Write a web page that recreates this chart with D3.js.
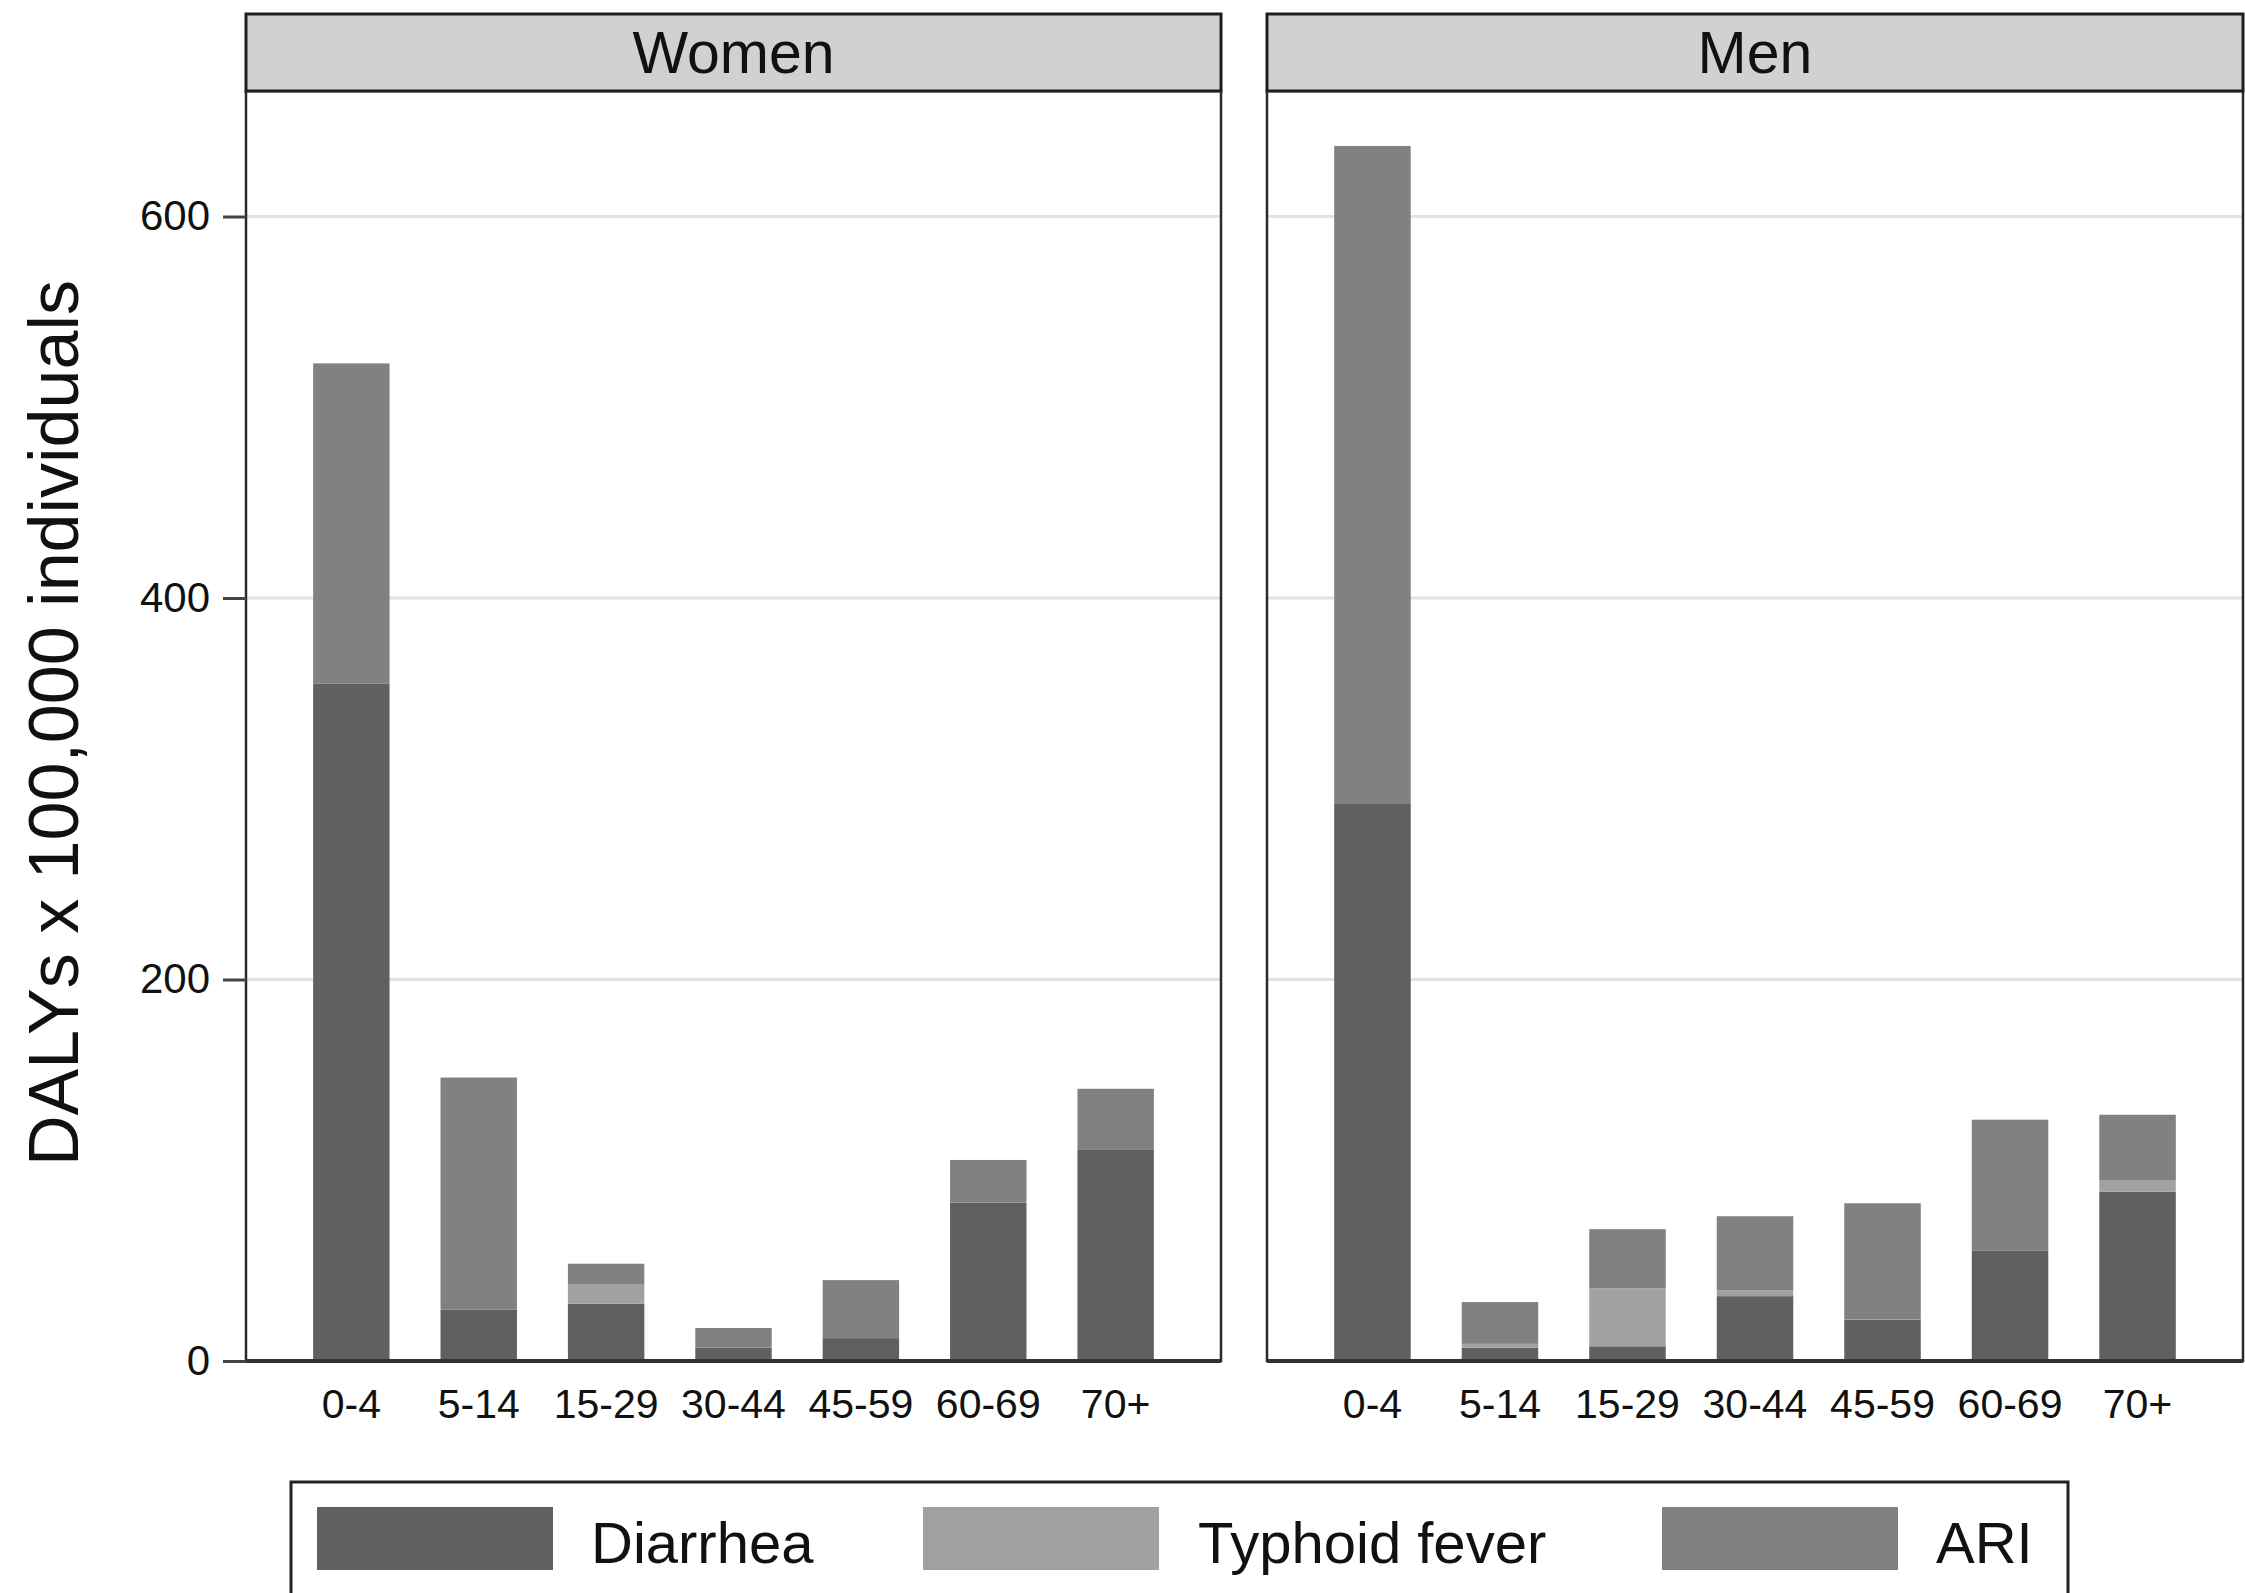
<!DOCTYPE html>
<html>
<head>
<meta charset="utf-8">
<script src="https://cdn.jsdelivr.net/npm/d3@7"></script>
<style>
  body { margin: 0; background: #fff; }
  svg { display: block; font-family: "Liberation Sans", Arial, Helvetica, sans-serif; }
</style>
</head>
<body>
<div id="chart"></div>
<script>
"use strict";

// Age groups and the three causes
const ages = ["0-4", "5-14", "15-29", "30-44", "45-59", "60-69", "70+"];
const causes = ["Diarrhea", "Typhoid fever", "ARI"];
const panels = ["Women", "Men"];

const women_diarrhea = [355, 27, 30, 7, 12, 83, 111];
const women_typhoid  = [0, 0, 10, 0, 0, 0, 0];
const women_ari      = [168, 121.6, 11, 10.3, 30.4, 22.4, 31.7];

const men_diarrhea = [292, 7, 7.7, 34, 21.5, 58, 88.8];
const men_typhoid  = [0, 2, 30.3, 3, 0.5, 0, 5.8];
const men_ari      = [345, 21.9, 31.1, 38.9, 60.7, 68.5, 34.5];

const y_ticks = [0, 200, 400, 600];
const y_title = "DALYs x 100,000 individuals";

const colors = {"Diarrhea": "#606060", "Typhoid fever": "#a1a1a1", "ARI": "#818181"};

const width = 2245, height = 1593;

// panel geometry
const panel_x = [[246, 1221], [1267, 2243]];
const strip_top = 14, plot_top = 91, plot_bottom = 1361;

function make_rows(diarrhea, typhoid, ari) {
    return ages.map(function (age, i) {
        return {"age": age, "Diarrhea": diarrhea[i], "Typhoid fever": typhoid[i], "ARI": ari[i]};
    });
}

const panel_data = {
    "Women": make_rows(women_diarrhea, women_typhoid, women_ari),
    "Men": make_rows(men_diarrhea, men_typhoid, men_ari)
};

const svg = d3.select("#chart").append("svg")
    .attr("width", width)
    .attr("height", height);

svg.append("rect").attr("width", width).attr("height", height).attr("fill", "white");

// y scale: 600 sits at ~216px, plot top at 91px
const y_scale = d3.scaleLinear()
    .domain([0, 600])
    .range([plot_bottom, 216.5]);

const stack = d3.stack().keys(causes);

panels.forEach(function (name, p) {
    const x0 = panel_x[p][0], x1 = panel_x[p][1];

    const x_scale = d3.scaleBand()
        .domain(ages)
        .range([x0, x1])
        .paddingInner(0.4)
        .paddingOuter(0.527);

    const g = svg.append("g").attr("class", "panel");

    // grid lines
    g.selectAll("line.grid")
        .data(y_ticks.filter(function (d) { return d > 0; }))
        .enter().append("line")
        .attr("class", "grid")
        .attr("x1", x0).attr("x2", x1)
        .attr("y1", function (d) { return y_scale(d); })
        .attr("y2", function (d) { return y_scale(d); })
        .attr("stroke", "#e2e2e2")
        .attr("stroke-width", 3);

    // stacked bars
    const series = stack(panel_data[name]);
    g.selectAll("g.series")
        .data(series)
        .enter().append("g")
        .attr("class", "series")
        .attr("fill", function (d) { return colors[d.key]; })
        .selectAll("rect")
        .data(function (d) { return d; })
        .enter().append("rect")
        .attr("x", function (d) { return x_scale(d.data.age); })
        .attr("width", x_scale.bandwidth())
        .attr("y", function (d) { return y_scale(d[1]); })
        .attr("height", function (d) { return y_scale(d[0]) - y_scale(d[1]); });

    // plot border
    g.append("rect")
        .attr("x", x0).attr("y", plot_top)
        .attr("width", x1 - x0).attr("height", plot_bottom - plot_top)
        .attr("fill", "none")
        .attr("stroke", "#2a2a2a")
        .attr("stroke-width", 2.5);

    // darker baseline
    g.append("line")
        .attr("x1", x0).attr("x2", x1)
        .attr("y1", plot_bottom).attr("y2", plot_bottom)
        .attr("stroke", "#333")
        .attr("stroke-width", 4);

    // strip on top
    g.append("rect")
        .attr("x", x0).attr("y", strip_top)
        .attr("width", x1 - x0).attr("height", plot_top - strip_top)
        .attr("fill", "#d1d1d1")
        .attr("stroke", "#1e1e1e")
        .attr("stroke-width", 3);
    g.append("text")
        .attr("x", (x0 + x1) / 2)
        .attr("y", 73)
        .attr("text-anchor", "middle")
        .attr("font-size", 59)
        .attr("fill", "#111")
        .text(name);

    // x axis labels
    const x_axis = d3.axisBottom(x_scale).tickSize(0).tickPadding(28);
    const xg = g.append("g")
        .attr("transform", "translate(0," + plot_bottom + ")")
        .call(x_axis);
    xg.select(".domain").remove();
    xg.selectAll("text").attr("font-size", 41).attr("fill", "#111");

    // y axis only on the first panel
    if (p === 0) {
        const y_axis = d3.axisLeft(y_scale).tickValues(y_ticks).tickSize(23).tickPadding(13);
        const yg = g.append("g")
            .attr("transform", "translate(" + x0 + ",0)")
            .call(y_axis);
        yg.select(".domain").remove();
        yg.selectAll("line").attr("stroke", "#444").attr("stroke-width", 3);
        yg.selectAll("text").attr("font-size", 42).attr("fill", "#111");
    }
});

// y axis title
svg.append("text")
    .attr("transform", "translate(78," + 723 + ") rotate(-90)")
    .attr("text-anchor", "middle")
    .attr("font-size", 70)
    .attr("fill", "#111")
    .text(y_title);

// legend
const legend_x = [317, 923, 1662];
const legend_text_x = [591, 1198, 1936];

svg.append("rect")
    .attr("x", 291).attr("y", 1482)
    .attr("width", 2068 - 291).attr("height", 140)
    .attr("fill", "white")
    .attr("stroke", "#222")
    .attr("stroke-width", 3);

const legend = svg.selectAll("g.legend")
    .data(causes)
    .enter().append("g")
    .attr("class", "legend");

legend.append("rect")
    .attr("x", function (d, i) { return legend_x[i]; })
    .attr("y", 1507)
    .attr("width", 236)
    .attr("height", 63)
    .attr("fill", function (d) { return colors[d]; });

legend.append("text")
    .attr("x", function (d, i) { return legend_text_x[i]; })
    .attr("y", 1563)
    .attr("font-size", 58)
    .attr("fill", "#111")
    .text(function (d) { return d; });
</script>
</body>
</html>
